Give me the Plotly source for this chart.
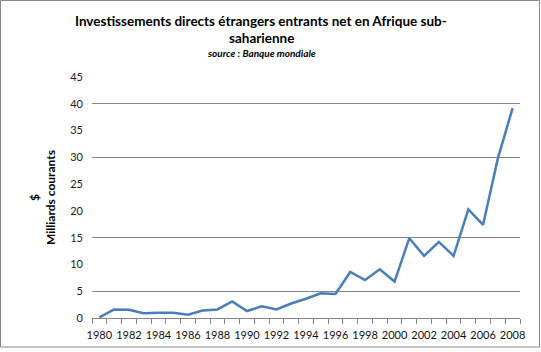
import plotly.graph_objects as go

years = list(range(1980, 2009))
ide = [0.1, 1.6, 1.55, 0.9, 1.0, 1.0, 0.6, 1.4, 1.6, 3.1, 1.3, 2.2, 1.6, 2.7, 3.6,
       4.6, 4.5, 8.6, 7.1, 9.1, 6.8, 14.9, 11.6, 14.2, 11.6, 20.3, 17.4, 29.8, 39.2]
x_labels = [str(y) for y in range(1980, 2009, 2)]
y_ticks = list(range(0, 50, 5))
grid_vals = [5, 15, 30, 40, 45]

title1 = "Investissements directs étrangers entrants net en Afrique sub-"
title2 = "saharienne"
source = "source : Banque mondiale"

W, H = 541, 352
L, R, T, B = 92, 21, 77, 34
pw, ph = W - L - R, H - T - B

def px(x):
    return (x - L) / pw

def py(y):
    return (H - B - y) / ph

fig = go.Figure()
fig.add_trace(go.Scatter(x=years, y=ide, mode="lines",
                         line=dict(color="#4a7ebb", width=2.5),
                         showlegend=False, hoverinfo="x+y"))

font_main = "Lato, 'Open Sans', sans-serif"

fig.update_layout(
    width=W, height=H,
    margin=dict(l=L, r=R, t=T, b=B),
    paper_bgcolor="white", plot_bgcolor="white",
    font=dict(family=font_main, color="#000"),
    xaxis=dict(
        range=[1979.5, 2008.5],
        tickmode="array", tickvals=list(range(1980, 2009, 2)), ticktext=x_labels,
        ticks="outside", ticklen=0, tickcolor="rgba(0,0,0,0)",
        tickfont=dict(size=11, family=font_main, color="#111"),
        ticklabelstandoff=7,
        showgrid=False, zeroline=False,
        showline=True, linecolor="#868686", linewidth=1,
        minor=dict(tickmode="linear", tick0=1979.5, dtick=1, ticks="outside",
                   ticklen=5, tickcolor="#868686", tickwidth=1, showgrid=False),
    ),
    yaxis=dict(
        range=[0, 45],
        tickmode="array", tickvals=y_ticks,
        tickfont=dict(size=11, family=font_main, color="#222"),
        ticks="", showline=False, zeroline=False,
        showgrid=False,
        minor=dict(tickmode="array", tickvals=grid_vals, showgrid=True,
                   gridcolor="#868686", gridwidth=1, ticks=""),
        title=dict(text="$<br>Milliards courants",
                   font=dict(size=12, family=font_main, color="#000", weight="bold"),
                   standoff=12),
        ticklabelstandoff=8,
    ),
    annotations=[
        dict(text=title1, x=px(261), y=py(21), xref="paper", yref="paper",
             showarrow=False, xanchor="center", yanchor="middle",
             font=dict(size=13.5, family=font_main, color="#000", weight="bold")),
        dict(text=title2, x=px(261), y=py(38), xref="paper", yref="paper",
             showarrow=False, xanchor="center", yanchor="middle",
             font=dict(size=13.5, family=font_main, color="#000", weight="bold")),
        dict(text="<i>" + source + "</i>", x=px(261), y=py(53), xref="paper", yref="paper",
             showarrow=False, xanchor="center", yanchor="middle",
             font=dict(size=10, family=font_main, color="#000", weight="bold")),
    ],
    shapes=[
        dict(type="rect", xref="paper", yref="paper",
             x0=px(0.5), x1=px(539.5), y0=py(347), y1=py(0.5),
             line=dict(color="#868686", width=1), layer="below"),
    ],
)

fig.write_html("out.html")
